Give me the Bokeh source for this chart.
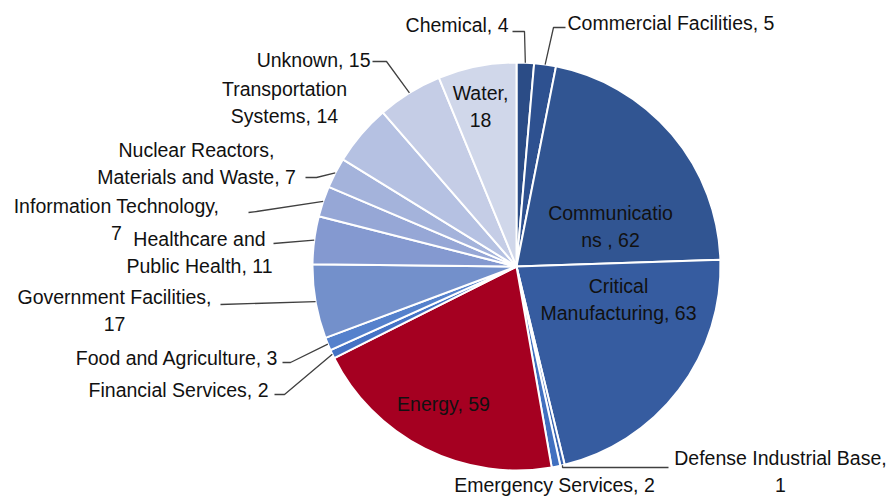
import numpy as np
from bokeh.plotting import figure
from bokeh.models import Range1d, ColumnDataSource
from bokeh.core.properties import value
from bokeh.embed import file_html
from bokeh.resources import INLINE

# ---- data (clockwise from 12 o'clock) ----
sectors = ["Chemical", "Commercial Facilities", "Communications", "Critical Manufacturing",
           "Defense Industrial Base", "Emergency Services", "Energy", "Financial Services",
           "Food and Agriculture", "Government Facilities", "Healthcare and Public Health",
           "Information Technology", "Nuclear Reactors, Materials and Waste",
           "Transportation Systems", "Unknown", "Water"]
counts = [4, 5, 62, 63, 1, 2, 59, 2, 3, 17, 11, 7, 7, 14, 15, 18]
label_fmt = ["Chemical, {}", "Commercial Facilities, {}", "Communicatio\nns , {}",
             "Critical\nManufacturing, {}", "Defense Industrial Base,\n{}",
             "Emergency Services, {}", "Energy, {}", "Financial Services, {}",
             "Food and Agriculture, {}", "Government Facilities,\n{}",
             "Healthcare and\nPublic Health, {}", "Information Technology,\n{}",
             "Nuclear Reactors,\nMaterials and Waste, {}", "Transportation\nSystems, {}",
             "Unknown, {}", "Water,\n{}"]
colors = ["#2B4C86", "#2E5190", "#315592", "#365CA0", "#3A64B0", "#4170C0", "#A50021",
          "#4472C4", "#5581CC", "#7390CB", "#8499D0", "#96A7D6", "#A4B3DB", "#B5C1E2",
          "#C5CDE6", "#D0D7EA"]

# ---- layout (screen pixels) ----
W, H = 895, 497
def Y(sy):
    return H - sy

cx, cy, R = 516, 266, 204
label_pos = [  # (x, screen y, align)
    (508, 24, "right"), (567, 22, "left"), (610, 226, "center"), (618, 299, "center"),
    (780, 471, "center"), (554, 484, "center"), (443, 403, "center"), (268, 389, "right"),
    (278, 357, "right"), (114, 310, "center"), (199, 252, "center"), (116, 219, "center"),
    (196, 163, "center"), (284, 102, "center"), (370, 59, "right"), (480, 106, "center"),
]
# leader elbows (outer points)
leader_pts = {
    0: [(512, 31), (524, 31)],
    1: [(565, 27), (553, 27)],
    4: [(668, 467), (562, 467)],
    7: [(274, 394), (284, 394)],
    8: [(282, 362), (290, 362)],
    9: [(220, 304)],
    10: [(273, 243)],
    11: [(248, 212), (256, 211)],
    12: [(305, 177), (316, 177)],
    14: [(372, 61), (386, 61)],
}

total = sum(counts)
vals = np.array(counts, dtype=float)
cum = np.concatenate([[0], np.cumsum(vals)])
start = np.pi / 2 - 2 * np.pi * cum[:-1] / total
end = np.pi / 2 - 2 * np.pi * cum[1:] / total
mid = (start + end) / 2

p = figure(width=W, height=H, x_range=Range1d(0, W), y_range=Range1d(0, H),
           x_axis_type=None, y_axis_type=None, toolbar_location=None,
           output_backend="svg", min_border=0, outline_line_color=None,
           background_fill_color="white", border_fill_color="white")
p.grid.visible = False

src = ColumnDataSource(dict(start=start, end=end, color=colors))
p.wedge(x=cx, y=Y(cy), radius=R, radius_units="screen", start_angle="start",
        end_angle="end", direction="clock", fill_color="color",
        line_color="white", line_width=2, source=src)

# leader lines
for i, pts in leader_pts.items():
    ex = cx + R * np.cos(mid[i])
    ey = Y(cy) + R * np.sin(mid[i])
    xs = [x for x, _ in pts] + [ex]
    ys = [Y(y) for _, y in pts] + [ey]
    p.line(xs, ys, line_color="#404040", line_width=1.3)

# labels
texts = [f.format(v) for f, v in zip(label_fmt, counts)]
for t, (lx, ly, al) in zip(texts, label_pos):
    p.text(x=[lx], y=[Y(ly)], text=[t], text_align=al, text_baseline="middle",
           text_font=value("Liberation Sans"), text_font_size="19.5px",
           text_line_height=1.2, text_color="#111111")

open("out.html", "w").write(file_html(p, INLINE))
